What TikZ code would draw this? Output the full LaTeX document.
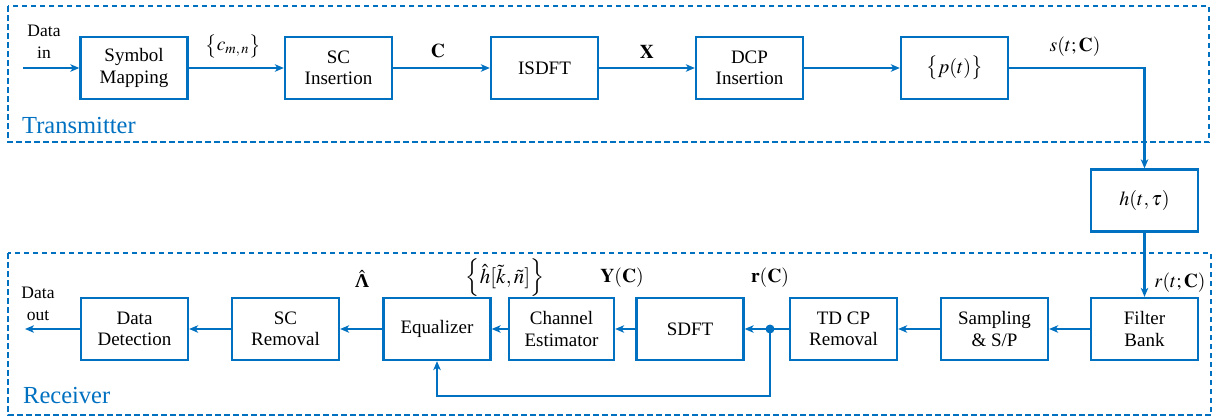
\documentclass[tikz,border=0pt]{standalone}
\usepackage{mathptmx}
\usepackage{fontspec}
\setmainfont{Liberation Serif}
\usetikzlibrary{arrows.meta}
\definecolor{lineblue}{RGB}{0,112,192}
\begin{document}
\begin{tikzpicture}[x=1pt,y=-1pt,
  block/.style={draw=lineblue,line width=2.3pt,minimum width=107pt,minimum height=62pt,
    inner sep=0pt,align=center,font=\fontsize{19}{21.5}\selectfont},
  flow/.style={draw=lineblue,line width=2.3pt,-{Stealth[length=9pt,width=7.5pt,inset=2.5pt]}},
  wire/.style={draw=lineblue,line width=2.3pt},
  region/.style={draw=lineblue,line width=1.6pt,dash pattern=on 5.5pt off 3.5pt},
  regionlabel/.style={anchor=base west,inner sep=0pt,text=lineblue,font=\fontsize{24.5}{27}\selectfont},
  sig/.style={inner sep=0pt,font=\fontsize{19.5}{22}\selectfont},
  io/.style={inner sep=0pt,align=center,font=\fontsize{17.5}{21.5}\selectfont}]
\useasboundingbox (0,0) rectangle (1221,418);

% transmitter and receiver regions
\draw[region] (8,6) rectangle (1209,142);
\draw[region] (8,253) rectangle (1211,415);
\node[regionlabel] (txlabel) at (22,133) {Transmitter};
\node[regionlabel] (rxlabel) at (23,403) {Receiver};

% transmitter chain
\node[block] (sym) at (134,68) {Symbol\\Mapping};
\node[block] (sci) at (338.5,68) {SC\\Insertion};
\node[block] (isdft) at (544.5,68) {ISDFT};
\node[block] (dcp) at (749.5,68) {DCP\\Insertion};
\node[block,font=\fontsize{20}{22}\selectfont] (pulse) at (954.5,68) {$\big\{p(t)\big\}$};

% channel
\node[block,font=\fontsize{20}{22}\selectfont] (chan) at (1144.5,200.5) {$h(t,\tau)$};

% receiver chain
\node[block] (fbank) at (1144.5,329) {Filter\\Bank};
\node[block] (samp) at (994.5,329) {Sampling\\\& S/P};
\node[block] (tdcp) at (843.5,329) {TD CP\\Removal};
\node[block] (sdft) at (690,329) {SDFT};
\node[block,minimum width=105pt] (cest) at (561.5,329) {Channel\\Estimator};
\node[block] (eq) at (437,329) {Equalizer};
\node[block] (scr) at (285.5,329) {SC\\Removal};
\node[block] (ddet) at (134.5,329) {Data\\Detection};

% input / output
\coordinate (din) at (23,68);
\coordinate (dout) at (25,329);
\node[io] (dinlabel) at (44,42) {Data\\in};
\node[io] (doutlabel) at (38,304) {Data\\out};

% transmitter connectors
\draw[flow] (din) -- (sym.west);
\draw[flow] (sym.east) -- (sci.west);
\draw[flow] (sci.east) -- (isdft.west);
\draw[flow] (isdft.east) -- (dcp.west);
\draw[flow] (dcp.east) -- (pulse.west);
\draw[flow] (pulse.east) -| (chan.north);
\draw[flow] (chan.south) -- (fbank.north);

% receiver connectors
\coordinate (tap) at (770,329);
\coordinate (loop) at (770,396);
\draw[flow] (fbank.west) -- (samp.east);
\draw[flow] (samp.west) -- (tdcp.east);
\draw[wire] (tdcp.west) -- (tap);
\draw[flow] (tap) -- (sdft.east);
\draw[flow] (sdft.west) -- (cest.east);
\draw[flow] (cest.west) -- (eq.east);
\draw[flow] (eq.west) -- (scr.east);
\draw[flow] (scr.west) -- (ddet.east);
\draw[flow] (ddet.west) -- (dout);
\draw[flow] (tap) -- (loop) -| (eq.south);
\fill[lineblue] (tap) circle (4.5pt);

% signal labels
\node[sig] (lc) at (233,46) {$\big\{c_{m,\,n}\big\}$};
\node[sig] (lC) at (438,51) {$\mathbf{C}$};
\node[sig] (lX) at (647,52) {$\mathbf{X}$};
\node[sig] (ls) at (1075,47) {$s(t;\mathbf{C})$};
\node[sig] (lr) at (1180,283) {$r(t;\mathbf{C})$};
\node[sig] (lrC) at (770,278) {$\mathbf{r}(\mathbf{C})$};
\node[sig] (lY) at (622,278) {$\mathbf{Y}(\mathbf{C})$};
\node[sig,font=\fontsize{21}{24}\selectfont] (lh) at (505,278) {$\Big\{\hat{h}[\tilde{k},\tilde{n}]\Big\}$};
\node[sig] (lL) at (362,279) {$\hat{\textbf{Λ}}$};
\end{tikzpicture}
\end{document}
